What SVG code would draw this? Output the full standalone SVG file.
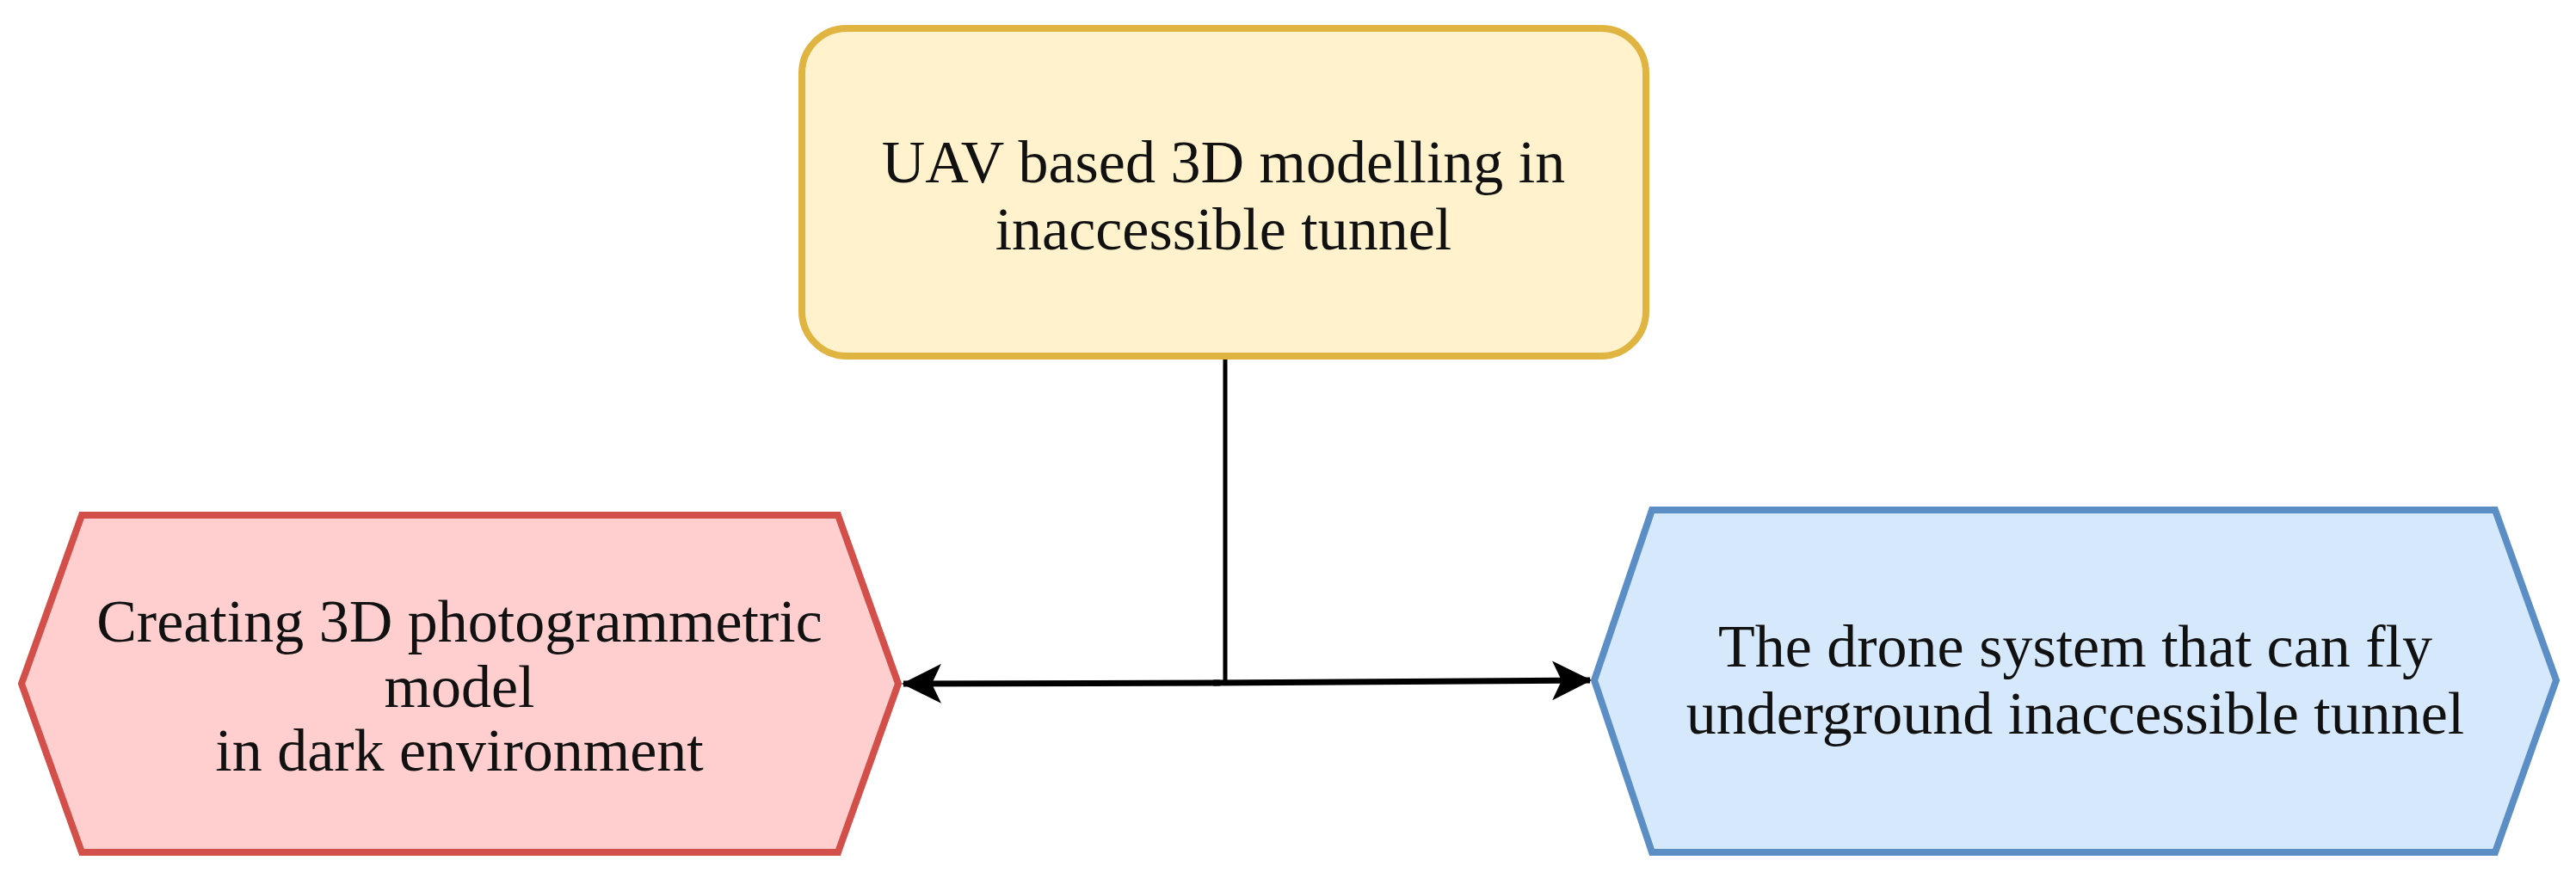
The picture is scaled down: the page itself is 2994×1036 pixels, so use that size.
<svg xmlns="http://www.w3.org/2000/svg" width="2994" height="1036" viewBox="0 0 2994 1036">
<style>
text{font-family:"Liberation Serif","Times New Roman",serif;font-size:70px;fill:#111;text-anchor:middle}
.conn{stroke:#000;fill:none}
</style>
<defs>
<marker id="arrow" viewBox="0 0 46 46" refX="44" refY="23" markerWidth="46" markerHeight="46" markerUnits="userSpaceOnUse" orient="auto">
<path d="M0,0 L46,23 L0,46 L11,23 Z" fill="#000"/>
</marker>
</defs>
<rect width="2994" height="1036" fill="#fff"/>
<g id="connectors">
<line class="conn" x1="1424" y1="416" x2="1424" y2="792" stroke-width="5"/>
<line class="conn" x1="1418" y1="794" x2="1050" y2="795" stroke-width="7" marker-end="url(#arrow)"/>
<line class="conn" x1="1410" y1="794" x2="1848" y2="791" stroke-width="7" marker-end="url(#arrow)"/>
</g>
<g id="top-node">
<rect x="932" y="33" width="981" height="381" rx="52" ry="52" fill="#fff2cc" stroke="#e0b441" stroke-width="8"/>
<text x="1422" y="212">UAV based 3D modelling in</text>
<text x="1422" y="290">inaccessible tunnel</text>
</g>
<g id="left-node">
<polygon points="95,599 974,599 1044,795 974,991 95,991 25,795" fill="#ffcfcf" stroke="#d24f4a" stroke-width="8"/>
<text x="534" y="746">Creating 3D photogrammetric</text>
<text x="534" y="822">model</text>
<text x="534" y="896">in dark environment</text>
</g>
<g id="right-node">
<polygon points="1920,593 2900,593 2971,791 2900,991 1920,991 1853,791" fill="#d6e8fb" stroke="#5c8ec6" stroke-width="8"/>
<text x="2412" y="775">The drone system that can fly</text>
<text x="2412" y="853">underground inaccessible tunnel</text>
</g>
</svg>
